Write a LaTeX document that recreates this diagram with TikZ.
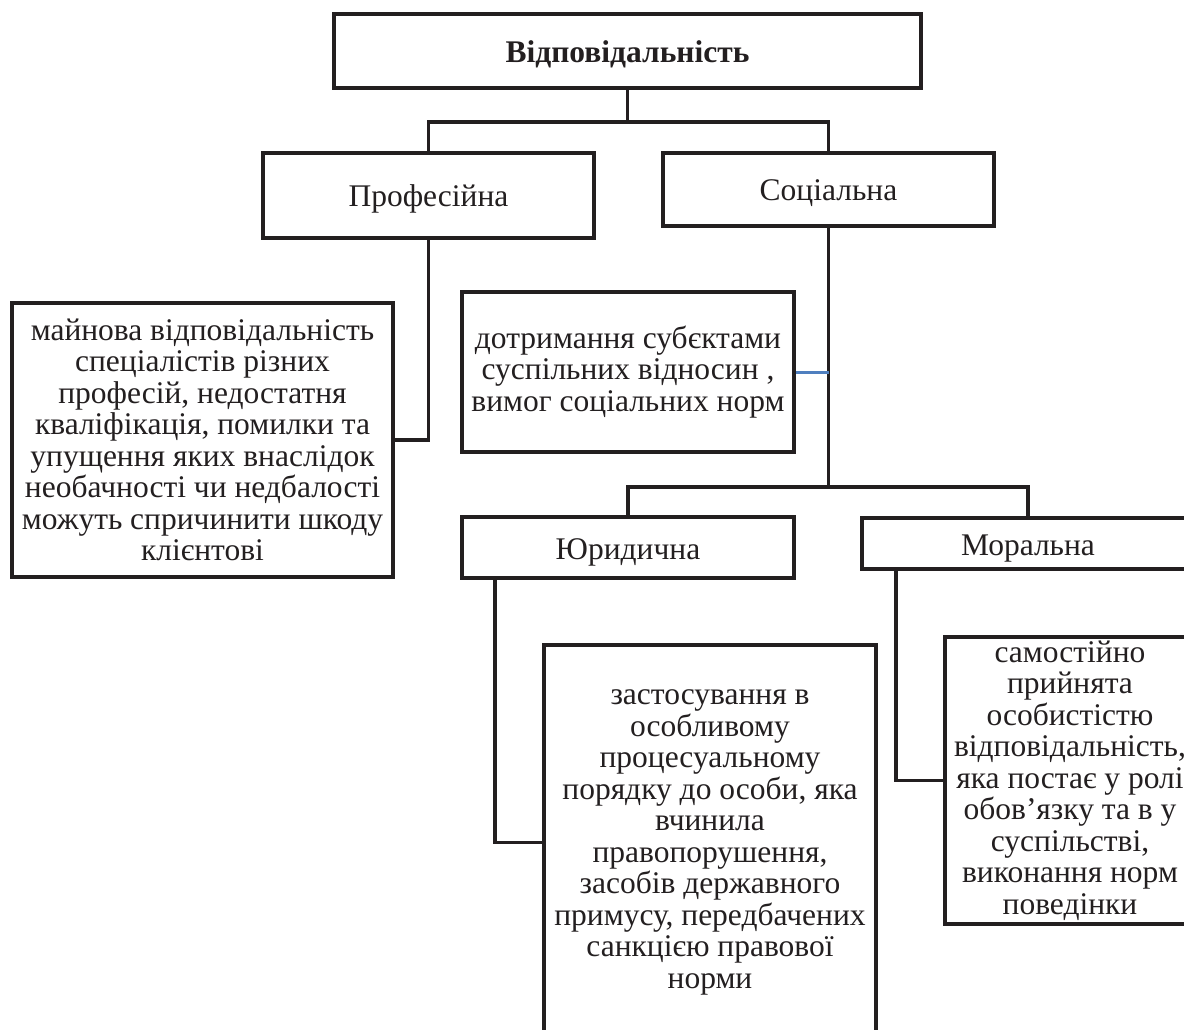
\documentclass[tikz,border=0pt]{standalone}
\usepackage{fontspec}
\setmainfont{Liberation Serif}
\definecolor{ink}{HTML}{231F20}
\definecolor{blueln}{HTML}{4F7FBF}
\newcommand{\lowered}[1]{\raisebox{-11.5pt}[0pt][0pt]{#1}}
\begin{document}
\begin{tikzpicture}[x=1pt,y=-1pt,
  box/.style={draw=ink, line width=3.6pt, inner sep=0pt, align=center, text=ink,
    font=\fontsize{31.5}{31.5}\selectfont},
  conn/.style={draw=ink, line width=3.6pt}]
\clip (0,0) rectangle (1184,1030);
\fill[white] (0,0) rectangle (1184,1030);
\node[box, minimum width=587, minimum height=74] (top) at (627.5,51) {\lowered{\bfseries Відповідальність}};
\node[box, minimum width=331, minimum height=85] (prof) at (428.5,195.5) {\lowered{Професійна}};
\node[box, minimum width=331, minimum height=73] (soc) at (828.5,189.5) {\lowered{Соціальна}};
\node[box, minimum width=381, minimum height=274] (left) at (202.5,440) {майнова відповідальність\\спеціалістів різних\\професій, недостатня\\кваліфікація, помилки та\\упущення яких внаслідок\\необачності чи недбалості\\можуть спричинити шкоду\\клієнтові};
\node[box, minimum width=332, minimum height=160] (mid) at (628,372) {дотримання субєктами\\суспільних відносин ,\\вимог соціальних норм};
\node[box, minimum width=332, minimum height=61] (yur) at (628,547.5) {\lowered{Юридична}};
\node[box, minimum width=332, minimum height=51] (mor) at (1028,543.5) {\lowered{Моральна}};
\node[box, minimum width=332, minimum height=395] (jtext) at (710,842.5) {застосування в\\особливому\\процесуальному\\порядку до особи, яка\\вчинила\\правопорушення,\\засобів державного\\примусу, передбачених\\санкцією правової\\норми};
\node[box, minimum width=250, minimum height=287] (mtext) at (1070,780.5) {самостійно\\прийнята\\особистістю\\відповідальність,\\яка постає у ролі\\обов’язку та в у\\суспільстві,\\виконання норм\\поведінки};
% connectors
\draw[conn] (top.south) -- ++(0,32) coordinate (j1);
\draw[conn] (prof.north) |- (j1) -| (soc.north);
\draw[conn] (prof.south) |- (left.east);
\draw[conn] (soc.south) -- ++(0,259) coordinate (j2);
\draw[conn] (yur.north) |- (j2) -| (mor.north);
\draw[blueln, line width=3pt] (mid.east) -- (mid.east -| soc.south);
\draw[conn] ([xshift=35]yur.south west) |- (jtext.west);
\draw[conn] ([xshift=36]mor.south west) |- (mtext.west);
\end{tikzpicture}
\end{document}
